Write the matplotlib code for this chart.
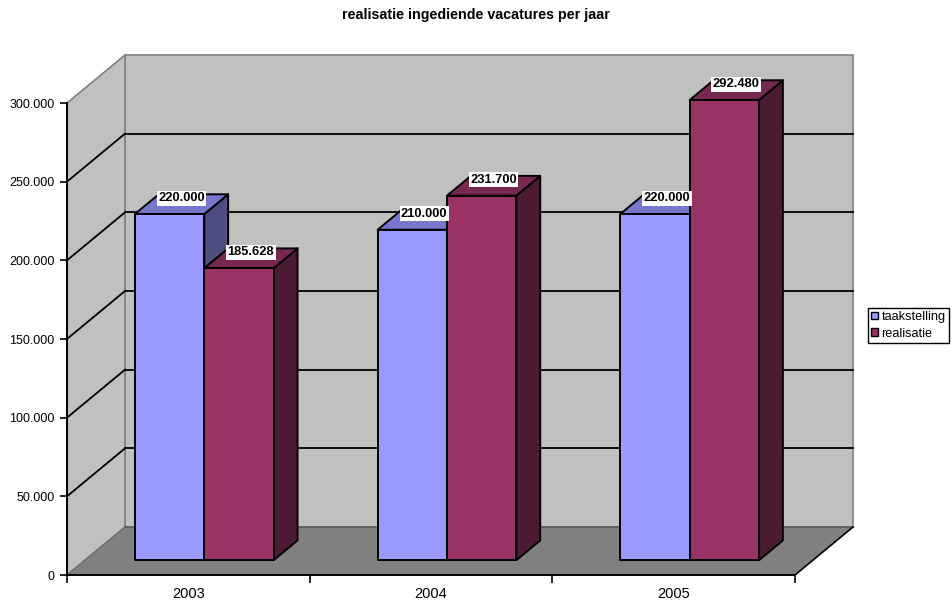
import matplotlib.pyplot as plt
from matplotlib.ticker import FuncFormatter, FixedLocator

plt.rcParams['font.family'] = ['Liberation Sans', 'DejaVu Sans']

years = ['2003', '2004', '2005']
series = ['taakstelling', 'realisatie']
taakstelling = [220000, 210000, 220000]
realisatie = [185628, 231700, 292480]

front_col = ['#9999FF', '#993366']
top_col = ['#7777CC', '#772850']
side_col = ['#4D4D80', '#4D1A33']

ymax = 300000
DX, DY = 0.239, 30508      # full depth offset of the walls (data units)
d0, d1 = 0.31, 0.72        # bar depth range (fraction of full depth)
bw = 0.286                 # bar width per series
cshift = -0.008            # small horizontal nudge of bar groups

fig = plt.figure(figsize=(9.52, 6), dpi=100)
ax = fig.add_axes([67 / 952, 25 / 600, 728 / 952, 472 / 600])
ax.set_xlim(0, len(years))
ax.set_ylim(0, ymax)
ax.set_facecolor('none')

# back wall, side wall, floor
n = len(years)
ax.fill([DX, n + DX, n + DX, DX], [DY, DY, ymax + DY, ymax + DY],
        facecolor='#C0C0C0', edgecolor='#808080', lw=1.2, zorder=0.5, clip_on=False)
ax.fill([0, DX, DX, 0], [0, DY, ymax + DY, ymax],
        facecolor='#C0C0C0', edgecolor='#808080', lw=1.2, zorder=0.5, clip_on=False)
ax.fill([0, n, n + DX, DX], [0, 0, DY, DY],
        facecolor='#808080', edgecolor='none', zorder=0.6, clip_on=False)
ax.plot([DX, n + DX], [DY, DY], color='#5a5a5a', lw=1.2, zorder=0.7, clip_on=False)
ax.plot([n, n + DX], [0, DY], color='black', lw=1.2, zorder=0.7, clip_on=False)
ax.plot([0, DX], [0, DY], color='#6a6a6a', lw=0.8, zorder=0.7, clip_on=False)

# gridlines
for v in range(50000, ymax, 50000):
    ax.plot([DX, n + DX], [v + DY, v + DY], color='black', lw=1.3, zorder=1, clip_on=False)
    ax.plot([0, DX], [v, v + DY], color='black', lw=1.3, zorder=1, clip_on=False)

# bars
handles = []
z = 3
for i, yr in enumerate(years):
    for s, vals in enumerate([taakstelling, realisatie]):
        v = vals[i]
        x0 = i + 0.5 + cshift - bw + s * bw
        x1 = x0 + bw
        ax0, ay0 = d0 * DX, d0 * DY
        ax1, ay1 = d1 * DX, d1 * DY
        kw = dict(edgecolor='black', lw=1.4, clip_on=False, joinstyle='round')
        ax.fill([x1 + ax0, x1 + ax1, x1 + ax1, x1 + ax0],
                [ay0, ay1, v + ay1, v + ay0], facecolor=side_col[s], zorder=z, **kw)
        ax.fill([x0 + ax0, x1 + ax0, x1 + ax1, x0 + ax1],
                [v + ay0, v + ay0, v + ay1, v + ay1], facecolor=top_col[s], zorder=z, **kw)
        p = ax.fill([x0 + ax0, x1 + ax0, x1 + ax0, x0 + ax0],
                    [ay0, ay0, v + ay0, v + ay0], facecolor=front_col[s], zorder=z,
                    label=series[s] if i == 0 else None, **kw)
        if i == 0:
            handles.append(p[0])
        z += 0.1
        lab = f'{v:,.0f}'.replace(',', '.')
        ax.text((x0 + x1) / 2 + (d0 + d1) / 2 * DX, v + (d1 - 0.08) * DY, lab,
                ha='center', va='center', fontsize=9.3, fontweight='bold', zorder=20,
                bbox=dict(facecolor='white', edgecolor='none', pad=1.0))

# axes styling
for sp in ['top', 'right']:
    ax.spines[sp].set_visible(False)
for sp in ['left', 'bottom']:
    ax.spines[sp].set_linewidth(1.4)
    ax.spines[sp].set_zorder(2)
ax.yaxis.set_major_locator(FixedLocator(range(0, ymax + 1, 50000)))
ax.yaxis.set_major_formatter(FuncFormatter(lambda v, p: f'{v:,.0f}'.replace(',', '.')))
ax.tick_params(axis='y', length=5, width=1.2, pad=4, labelsize=9)
ax.set_xticks(range(n + 1))
ax.set_xticklabels([])
ax.set_xticks([i + 0.5 for i in range(n)], minor=True)
ax.set_xticklabels(years, minor=True)
ax.tick_params(axis='x', which='major', length=6, width=1.2)
ax.tick_params(axis='x', which='minor', length=0, pad=9, labelsize=10.5)

fig.text(0.5, 1 - 15 / 600, 'realisatie ingediende vacatures per jaar',
         ha='center', va='center', fontsize=10.3, fontweight='bold')

leg = fig.legend(handles=handles, loc='upper left',
                 bbox_to_anchor=(868 / 952, 1 - 308 / 600), fontsize=9.2,
                 frameon=True, fancybox=False, edgecolor='black', framealpha=1,
                 handlelength=0.5, handleheight=0.5, handletextpad=0.3,
                 borderpad=0.25, labelspacing=0.35, borderaxespad=0)
leg.get_frame().set_linewidth(1.0)
for h in leg.legend_handles:
    h.set_linewidth(1.0)

fig.savefig('out.png', dpi=100)
